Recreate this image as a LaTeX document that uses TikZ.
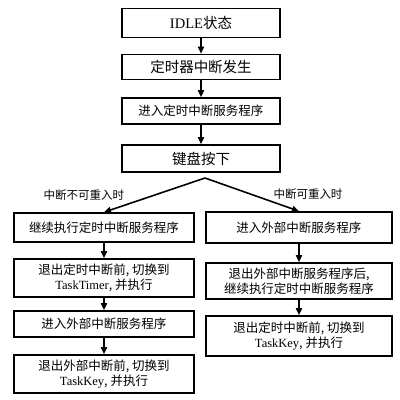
\documentclass[tikz,border=0pt]{standalone}
\usepackage{fontspec}
\setmainfont{Liberation Serif}
\newfontfamily\cjk{Noto Sans CJK SC}
\usetikzlibrary{arrows.meta}
\newcommand{\en}[1]{{\rmfamily #1}}
\begin{document}
\begin{tikzpicture}[x=1pt,y=-1pt,
  box/.style={draw=black,line width=1.6pt,rectangle,inner sep=1pt,align=center,font=\cjk\fontsize{12.5}{15}\selectfont},
  bigbox/.style={box,font=\cjk\fontsize{14.5}{17}\selectfont},
  conn/.style={line width=1.6pt,-{Triangle[length=7pt,width=6pt]}},
  lbl/.style={font=\cjk\fontsize{11.5}{14}\selectfont,inner sep=0pt}]
\useasboundingbox (0,0) rectangle (400,400);
\fill[white] (0,0) rectangle (400,400);
% top column
\node[bigbox,minimum width=158pt,minimum height=29pt] (idle) at (201,23) {\en{IDLE}状态};
\node[bigbox,minimum width=158pt,minimum height=25pt] (timer) at (201,67) {定时器中断发生};
\node[box,minimum width=158pt,minimum height=26pt] (enter) at (201,111) {进入定时中断服务程序};
\node[bigbox,minimum width=158pt,minimum height=27pt] (key) at (201,158.5) {键盘按下};
\draw[conn] (idle) -- (timer);
\draw[conn] (timer) -- (enter);
\draw[conn] (enter) -- (key);
% left column
\node[box,minimum width=180pt,minimum height=29pt] (l1) at (104,227.5) {继续执行定时中断服务程序};
\node[box,minimum width=180pt,minimum height=38pt] (l2) at (104,278) {退出定时中断前, 切换到\\\en{TaskTimer}, 并执行};
\node[box,minimum width=180pt,minimum height=26pt] (l3) at (104,324) {进入外部中断服务程序};
\node[box,minimum width=180pt,minimum height=38pt] (l4) at (104,374) {退出外部中断前, 切换到\\\en{TaskKey}, 并执行};
\draw[conn] (l1) -- (l2);
\draw[conn] (l2) -- (l3);
\draw[conn] (l3) -- (l4);
% right column
\node[box,minimum width=186pt,minimum height=31pt] (r1) at (299,227.5) {进入外部中断服务程序};
\node[box,minimum width=186pt,minimum height=36pt] (r2) at (299,281) {退出外部中断服务程序后,\\继续执行定时中断服务程序};
\node[box,minimum width=186pt,minimum height=40pt] (r3) at (299,336) {退出定时中断前, 切换到\\\en{TaskKey}, 并执行};
\draw[conn] (r1) -- (r2);
\draw[conn] (r2) -- (r3);
% branch
\coordinate (apex) at (205,178);
\draw[conn] (apex) -- (l1.north);
\draw[conn] (apex) -- (r1.north);
\node[lbl] (lnr) at (84,195) {中断不可重入时};
\node[lbl] (lr) at (308,194) {中断可重入时};
\end{tikzpicture}
\end{document}
